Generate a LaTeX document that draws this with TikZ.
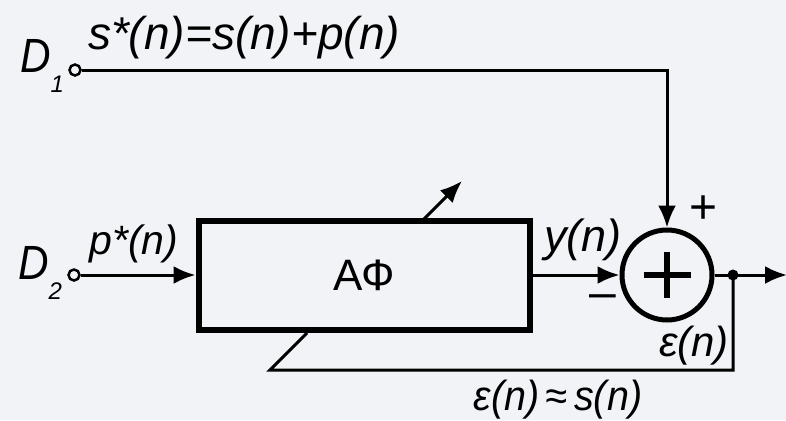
\documentclass[tikz,border=0pt]{standalone}
\usepackage{fontspec}
\setmainfont{Liberation Sans}
\usetikzlibrary{arrows.meta}
\definecolor{bg}{RGB}{242,243,247}
\newcommand{\fsz}[1]{\fontsize{#1}{#1}\selectfont}
\begin{document}
\begin{tikzpicture}[x=1pt,y=-1pt,
  lbl/.style={font=\fsz{44}\itshape, inner sep=0},
  sgn/.style={font=\fsz{48}, inner sep=0},
  wire/.style={line width=3pt},
  arr/.style={wire,-{Latex[length=22pt,width=18pt]}},
  term/.style={circle,draw,line width=2.5pt,minimum size=11pt,inner sep=0,fill=bg},
]
\fill[bg] (0,0) rectangle (786,420);
\useasboundingbox (0,0) rectangle (786,420);
% terminals
\node[term] (t1) at (75,70) {};
\node[term] (t2) at (74,275) {};
% adaptive filter box
\node[draw,line width=6pt,minimum width=331pt,minimum height=109pt,inner sep=0,
      font=\fsz{44}] (af) at (364,275.5) {АФ};
% summing junction
\node[circle,draw,line width=5pt,minimum size=90pt,inner sep=0] (sum) at (667,275) {};
\draw[line width=6.5pt] (sum.center) ++(-23.5,0) coordinate (pl) -- ++(47,0) coordinate (pr);
\draw[line width=6.5pt] (sum.center) ++(0,-23) coordinate (pt) -- ++(0,46) coordinate (pb);
% junction point and output
\coordinate (j) at (733,275);
\coordinate (out) at (787,275);
\fill (j) circle (5.5pt);
% connectors
\draw[arr] (t1) -- (t1 -| sum) -- (sum);
\draw[arr] (t2) -- (af.west |- t2);
\draw[arr] (af.east |- sum) -- (sum);
\draw[wire] (sum) -- (j);
\draw[arr] (j) -- (out);
% feedback
\coordinate (fb1) at (733,370);
\coordinate (fb2) at (270,370);
\coordinate (fb3) at (307,333);
\draw[wire] (j) -- (fb1) -- (fb2) -- (fb3);
% adaptation arrow
\coordinate (ad1) at (424,219);
\coordinate (ad2) at (462,181);
\draw[arr] (ad1) -- (ad2);
% labels
\node[lbl,font=\fsz{48}\itshape,anchor=west] (lD1) at (20,66) {\scalebox{0.88}[1]{D}\raisebox{-0.4em}{\fsz{24}1}};
\node[lbl,font=\fsz{48}\itshape,anchor=west] (lD2) at (18,273) {\scalebox{0.88}[1]{D}\raisebox{-0.4em}{\fsz{24}2}};
\node[lbl,font=\fsz{46}\itshape] (ls) at (244,38) {s*(n)=s(n)+p(n)};
\node[lbl,font=\fsz{41}\itshape] (lp) at (134,244) {p*(n)};
\node[lbl,font=\fsz{45}\itshape] (ly) at (583,240) {y(n)};
\node[sgn] (lplus) at (704,210) {+};
\node[sgn,anchor=base west] (lminus) at (589,308) {–};
\node[lbl,font=\fsz{42}\itshape] (le) at (694,346) {ε(n)};
\node[lbl,font=\fsz{42}\itshape] (les) at (558,400) {\scalebox{0.94}[1]{ε(n)\,≈\,s(n)}};
\end{tikzpicture}
\end{document}
